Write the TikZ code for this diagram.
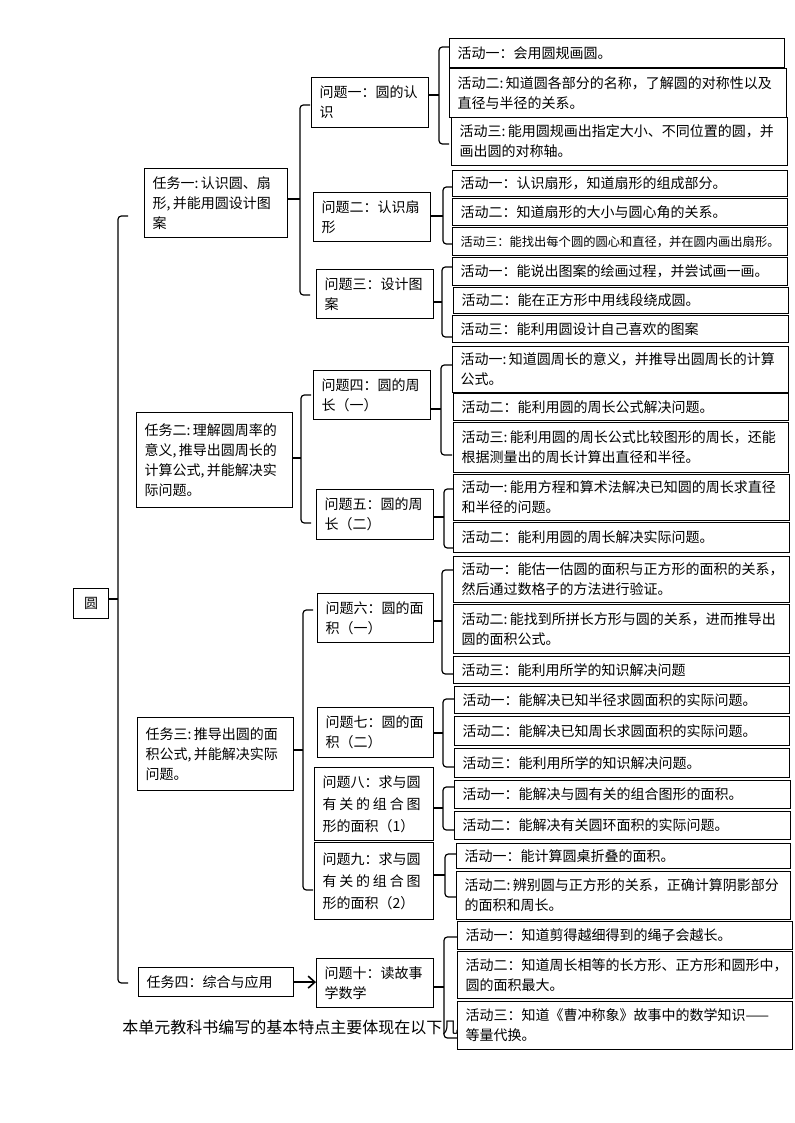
\documentclass[tikz,border=0pt]{standalone}
\usepackage{fontspec}
\newfontfamily\cjk{Noto Sans CJK SC}
\usetikzlibrary{arrows.meta}
\tikzset{
  bx/.style={draw, line width=0.9bp, fill=white, inner xsep=6bp, inner ysep=0pt, align=left,
    font=\cjk\fontsize{10.5bp}{15bp}\selectfont},
  brkline/.style={line width=0.9bp, rounded corners=2.5bp},
  tickline/.style={line width=0.9bp},
  notetext/.style={font=\cjk\fontsize{12bp}{14bp}\selectfont, anchor=west, inner sep=0pt},
}
% \bx[opts]{name}{x1}{y1}{x2}{y2}{text}
\newcommand\bx[7][]{%
  \pgfmathsetlengthmacro\bxtw{(#5-#3)*0.75bp-12bp}%
  \pgfmathsetlengthmacro\bxmh{(#6-#4)*0.75bp}%
  \node[bx,anchor=north west,text width=\bxtw,minimum height=\bxmh,#1] (#2) at (#3,#4) {#7};}
% \brk{parent}{xv}{ytick}{ytop}{ybot}{xhook}
\newcommand\brk[6]{%
  \draw[tickline] (#1.east |- #2,#3) -- (#2,#3);
  \draw[brkline] (#6,#4) -- (#2,#4) -- (#2,#5) -- (#6,#5);}
\begin{document}
\begin{tikzpicture}[x=0.75bp,y=-0.75bp]
\fill[white] (0,0) rectangle (794,1123);
\useasboundingbox (0,0) rectangle (794,1123);

% root and tasks
\bx[align=center]{R}{73}{588}{108}{618}{圆}
\bx{T1}{144}{168}{287}{237}{任务一:\,认识圆、扇\\形,\,并能用圆设计图\\案}
\bx{T2}{136}{412}{292}{507}{任务二:\,理解圆周率的\\意义,\,推导出圆周长的\\计算公式,\,并能解决实\\际问题。}
\bx{T3}{137}{717}{293}{790}{任务三:\,推导出圆的面\\积公式,\,并能解决实际\\问题。}
\bx{T4}{138}{967}{293}{996}{任务四：综合与应用}

% questions
\bx{Q1}{311}{77}{428}{127}{问题一：圆的认\\识}
\bx{Q2}{313}{192}{430}{241}{问题二：认识扇\\形}
\bx{Q3}{316}{269}{433}{318}{问题三：设计图\\案}
\bx{Q4}{313}{370}{430}{419}{问题四：圆的周\\长（一）}
\bx{Q5}{316}{489}{433}{539}{问题五：圆的周\\长（二）}
\bx{Q6}{317}{593}{433}{642}{问题六：圆的面\\积（一）}
\bx{Q7}{317}{707}{433}{757}{问题七：圆的面\\积（二）}
\bx[font=\cjk\fontsize{10.5bp}{16.5bp}\selectfont]{Q8}{314}{767}{433}{840}{问题八：求与圆\\有\hspace{0.2em}关\hspace{0.2em}的\hspace{0.2em}组\hspace{0.2em}合\hspace{0.2em}图\\形的面积（1）}
\bx[font=\cjk\fontsize{10.5bp}{16.5bp}\selectfont]{Q9}{314}{842}{433}{919}{问题九：求与圆\\有\hspace{0.2em}关\hspace{0.2em}的\hspace{0.2em}组\hspace{0.2em}合\hspace{0.2em}图\\形的面积（2）}
\bx{Q10}{316}{958}{433}{1007}{问题十：读故事\\学数学}

% bottom text (partly covered by the last activity box)
\node[notetext] (note) at (122,1027) {本单元教科书编写的基本特点主要体现在以下几};

% activities
\bx{A11}{449}{38}{784}{67}{活动一：会用圆规画圆。}
\bx{A12}{449}{68}{786}{117}{活动二:\,知道圆各部分的名称，了解圆的对称性以及\\直径与半径的关系。}
\bx{A13}{451}{117}{787}{165}{活动三:\,能用圆规画出指定大小、不同位置的圆，并\\画出圆的对称轴。}
\bx{A21}{452}{170}{787}{196}{活动一：认识扇形，知道扇形的组成部分。}
\bx{A22}{452}{198}{787}{225}{活动二：知道扇形的大小与圆心角的关系。}
\bx[font=\cjk\fontsize{9.2bp}{12bp}\selectfont]{A23}{452}{227}{787}{255}{活动三：能找出每个圆的圆心和直径，并在圆内画出扇形。}
\bx{A31}{452}{257}{787}{285}{活动一：能说出图案的绘画过程，并尝试画一画。}
\bx{A32}{453}{287}{788}{313}{活动二：能在正方形中用线段绕成圆。}
\bx{A33}{452}{315}{788}{342}{活动三：能利用圆设计自己喜欢的图案}
\bx{A41}{452}{346}{788}{392}{活动一:\,知道圆周长的意义，并推导出圆周长的计算\\公式。}
\bx{A42}{453}{393}{788}{420}{活动二：能利用圆的周长公式解决问题。}
\bx{A43}{453}{422}{788}{472}{活动三:\,能利用圆的周长公式比较图形的周长，还能\\根据测量出的周长计算出直径和半径。}
\bx{A51}{453}{474}{789}{520}{活动一:\,能用方程和算术法解决已知圆的周长求直径\\和半径的问题。}
\bx{A52}{453}{522}{789}{552}{活动二：能利用圆的周长解决实际问题。}
\bx{A61}{453}{556}{789}{602}{活动一：能估一估圆的面积与正方形的面积的关系，\\然后通过数格子的方法进行验证。}
\bx{A62}{453}{604}{789}{653}{活动二:\,能找到所拼长方形与圆的关系，进而推导出\\圆的面积公式。}
\bx{A63}{453}{656}{789}{683}{活动三：能利用所学的知识解决问题}
\bx{A71}{454}{686}{789}{713}{活动一：能解决已知半径求圆面积的实际问题。}
\bx{A72}{454}{716}{789}{745}{活动二：能解决已知周长求圆面积的实际问题。}
\bx{A73}{454}{748}{789}{777}{活动三：能利用所学的知识解决问题。}
\bx{A81}{454}{780}{790}{808}{活动一：能解决与圆有关的组合图形的面积。}
\bx{A82}{454}{811}{790}{839}{活动二：能解决有关圆环面积的实际问题。}
\bx{A91}{456}{843}{790}{868}{活动一：能计算圆桌折叠的面积。}
\bx{A92}{456}{871}{790}{919}{活动二:\,辨别圆与正方形的关系，正确计算阴影部分\\的面积和周长。}
\bx{A101}{457}{921}{792}{949}{活动一：知道剪得越细得到的绳子会越长。}
\bx{A102}{457}{951}{792}{998}{活动二：知道周长相等的长方形、正方形和圆形中，\\圆的面积最大。}
\bx{A103}{457}{1001}{792}{1049}{活动三：知道《曹冲称象》故事中的数学知识——\\等量代换。}

% brackets
\brk{R}{118}{599}{216}{983}{128}
\brk{T1}{300}{199}{105}{295}{310}
\brk{T2}{301}{458}{395}{523}{311}
\brk{T3}{303}{750}{610}{890}{313}
\brk{Q1}{439}{95}{47}{144}{449}
\brk{Q2}{443}{216}{187}{244}{452}
\brk{Q3}{442}{302}{267}{337}{452}
\brk{Q4}{441}{409}{365}{455}{452}
\brk{Q5}{444}{517}{489}{548}{453}
\brk{Q6}{442}{621}{570}{674}{453}
\brk{Q7}{443}{733}{699}{767}{454}
\brk{Q8}{443}{808}{787}{830}{454}
\brk{Q9}{445}{875}{854}{897}{456}
\brk{Q10}{444}{987}{937}{1038}{457}

% task four arrow
\draw[line width=1.2bp,-{Straight Barb[length=5bp,width=9bp]}] (T4.east) -- (Q10.west |- T4.east);
\end{tikzpicture}
\end{document}
